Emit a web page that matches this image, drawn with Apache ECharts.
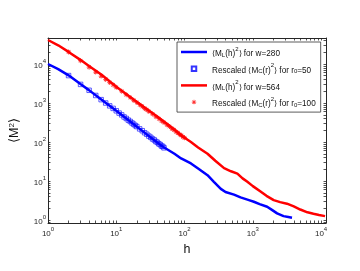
<!DOCTYPE html>
<html>
<head>
<meta charset="utf-8">
<script src="https://cdn.jsdelivr.net/npm/echarts@6/dist/echarts.min.js"></script>
<style>
  html, body { margin: 0; padding: 0; background: #fff; }
  #chart { width: 360px; height: 271px; }
</style>
</head>
<body>
<div id="chart"></div>
<script>
// <M_L(h)^2> for w=280 (blue line)
const blueLineH = [1, 1.41, 2, 3.02, 3.98, 6.03, 10, 15.8, 25.1, 39.8, 48.2, 71.1, 89.1, 124, 158, 217, 269, 340, 398, 530, 661, 877, 1035, 1259, 1622, 1905, 2270, 2818, 3311, 3750];
const blueLineM = [10000, 7410, 5130, 3020, 2140, 1230, 631, 339, 182, 97.7, 75.9, 50.1, 38.0, 28.2, 20.9, 14.1, 9.55, 6.31, 5.25, 4.47, 3.80, 3.24, 2.95, 2.57, 2.19, 1.82, 1.48, 1.26, 1.20, 1.15];

// rescaled <M_C(r)^2> for r0=50 (blue squares)
const blueSqH = [2, 3, 4, 5, 6, 7, 8, 9, 10, 11, 12, 13, 14, 15, 16, 17, 18, 19, 20, 22, 24, 26, 28, 30, 32, 34, 36, 38, 40, 42, 44, 46, 48, 50];
const blueSqM = [5050, 3000, 2120, 1560, 1220, 1000, 845, 728, 632, 552, 496, 440, 402, 364, 337, 308, 287, 264, 249, 217, 195, 173, 158, 142, 132, 120, 113, 103, 98, 90, 86, 79, 77, 71];

// <M_L(h)^2> for w=564 (red line)
const redLineH = [1, 1.41, 2, 3.02, 3.98, 6.03, 10, 15.8, 25.1, 39.8, 63.1, 94.2, 124, 158, 217, 282, 379, 479, 594, 708, 832, 1000, 1297, 1585, 2023, 2512, 3162, 3981, 4955, 6310, 7727, 9333, 11430];
const redLineM = [41200, 30200, 20400, 12600, 8900, 5370, 2630, 1450, 800, 450, 245, 138, 100, 72.4, 50.1, 33.1, 21.4, 17.8, 15.5, 11.7, 9.55, 7.41, 5.37, 4.17, 3.24, 2.88, 2.63, 2.24, 1.86, 1.58, 1.45, 1.35, 1.26];

// rescaled <M_C(r)^2> for r0=100 (red stars)
const redStarH = [2, 3, 4, 5, 6, 7, 8, 9, 10, 12, 14, 16, 18, 20, 22, 24, 26, 28, 30, 34, 38, 42, 46, 50, 55, 60, 65, 70, 75, 80, 85, 90, 95, 100];
const redStarM = [20400, 12100, 8300, 6200, 4900, 4030, 3370, 2910, 2520, 2010, 1630, 1390, 1170, 1035, 905, 818, 728, 670, 605, 522, 445, 396, 347, 316, 276, 250, 221, 205, 183, 172, 156, 148, 135, 129];

const xLabels = [1, 10, 100, 1000, 10000];
const yLabels = [1, 10, 100, 1000, 10000];
const xRange = [1, 11800];
const yRange = [0.84, 46400];

const zip = (xs, ys) => xs.map((x, i) => [x, ys[i]]);

// minor ticks 1..9 per decade, like matlab's log axes
const logTicks = (lo, hi) => {
  const out = [];
  for (let d = 0.1; d <= hi; d *= 10) {
    for (let k = 1; k <= 9; k++) {
      const v = +(k * d).toPrecision(3);
      if (v >= lo && v <= hi) out.push(v);
    }
  }
  return out;
};

const FONT = "Liberation Sans";
const AX = "#262626";
const sup = (v) => "{b|10}{s|" + Math.round(Math.log10(v)) + "}";
const tickRich = {
  b: { fontSize: 8, fontFamily: FONT, color: AX, verticalAlign: "bottom", lineHeight: 12 },
  s: { fontSize: 6, fontFamily: FONT, color: AX, verticalAlign: "top", lineHeight: 7 },
};

const star = "path://M-1,-0.16L1,-0.16L1,0.16L-1,0.16Z M-0.16,-1L0.16,-1L0.16,1L-0.16,1Z M-0.59,-0.82L0.82,0.59L0.59,0.82L-0.82,-0.59Z M0.82,-0.59L-0.59,0.82L-0.82,0.59L0.59,-0.82Z";
const lineIcon = "path://M0,0L26,0L26,2.5L0,2.5Z";
const squareIcon = "path://M0,0L10,0L10,10L0,10Z";

const xAxisBase = (pos) => ({
  type: "log",
  logBase: 10,
  min: xRange[0],
  max: xRange[1],
  position: pos,
  axisLine: { show: true, onZero: false, lineStyle: { color: AX, width: 1 } },
  axisTick: { show: true, inside: true, length: 2.5, customValues: logTicks(xRange[0], xRange[1]), lineStyle: { color: AX, width: 0.8 } },
  splitLine: { show: false },
  minorTick: { show: false },
});
const yAxisBase = (pos) => ({
  type: "log",
  logBase: 10,
  min: yRange[0],
  max: yRange[1],
  position: pos,
  axisLine: { show: true, onZero: false, lineStyle: { color: AX, width: 1 } },
  axisTick: { show: true, inside: true, length: 2.5, customValues: logTicks(yRange[0], yRange[1]), lineStyle: { color: AX, width: 0.8 } },
  splitLine: { show: false },
  minorTick: { show: false },
});

const legendRich = {
  n: { fontSize: 8.2, fontFamily: FONT, color: "#111", verticalAlign: "bottom", lineHeight: 12 },
  sub: { fontSize: 6, fontFamily: FONT, color: "#111", verticalAlign: "bottom", lineHeight: 10 },
  sup: { fontSize: 6, fontFamily: FONT, color: "#111", verticalAlign: "top", lineHeight: 12 },
};
const legendNames = {
  "lw280": "{n|\u27e8M}{sub|L}{n|(h)}{sup|2}{n|\u27e9 for w=280}",
  "rc50": "{n|Rescaled \u27e8M}{sub|C}{n|(r)}{sup|2}{n|\u27e9 for r}{sub|0}{n|=50}",
  "lw564": "{n|\u27e8M}{sub|L}{n|(h)}{sup|2}{n|\u27e9 for w=564}",
  "rc100": "{n|Rescaled \u27e8M}{sub|C}{n|(r)}{sup|2}{n|\u27e9 for r}{sub|0}{n|=100}",
};

const chart = echarts.init(document.getElementById("chart"), null, { renderer: "canvas" });

chart.setOption({
  animation: false,
  backgroundColor: "#fff",
  grid: { left: 46, right: 34, top: 38, bottom: 48, containLabel: false },
  xAxis: [
    Object.assign(xAxisBase("bottom"), {
      axisLabel: { show: true, customValues: xLabels, margin: 3, formatter: sup, rich: tickRich },
      name: "h",
      nameLocation: "middle",
      nameGap: 16,
      nameTextStyle: { fontSize: 12.5, fontFamily: FONT, color: "#111" },
    }),
    Object.assign(xAxisBase("top"), { axisLabel: { show: false } }),
  ],
  yAxis: [
    Object.assign(yAxisBase("left"), {
      axisLabel: { show: true, customValues: yLabels, margin: 2, formatter: sup, rich: tickRich },
      name: "\u27e8M{s|2}\u27e9",
      nameLocation: "middle",
      nameGap: 26,
      nameRotate: 90,
      nameTextStyle: {
        fontSize: 12.5, fontFamily: FONT, color: "#111",
        rich: { s: { fontSize: 8, fontFamily: FONT, color: "#111", verticalAlign: "top", lineHeight: 14 } },
      },
    }),
    Object.assign(yAxisBase("right"), { axisLabel: { show: false } }),
  ],
  legend: {
    orient: "vertical",
    left: 177,
    top: 42,
    padding: [4, 5, 4, 4],
    itemGap: 4.7,
    itemWidth: 26,
    itemHeight: 4.5,
    backgroundColor: "#fff",
    borderColor: "#333",
    borderWidth: 0.8,
    borderRadius: 0,
    selectedMode: false,
    formatter: (name) => legendNames[name],
    textStyle: { rich: legendRich },
    data: [
      { name: "lw280", icon: lineIcon },
      { name: "rc50", icon: squareIcon },
      { name: "lw564", icon: lineIcon },
      { name: "rc100" },
    ],
  },
  series: [
    {
      name: "lw280",
      type: "line",
      data: zip(blueLineH, blueLineM),
      symbol: "none",
      lineStyle: { color: "#0000ff", width: 2.5 },
      itemStyle: { color: "#0000ff" },
      z: 2,
    },
    {
      name: "rc50",
      type: "scatter",
      data: zip(blueSqH, blueSqM),
      symbol: "rect",
      symbolSize: 4.5,
      itemStyle: { color: "rgba(0,0,0,0)", borderColor: "#0000ff", borderWidth: 0.8 },
      z: 3,
    },
    {
      name: "lw564",
      type: "line",
      data: zip(redLineH, redLineM),
      symbol: "none",
      lineStyle: { color: "#ff0000", width: 2.5 },
      itemStyle: { color: "#ff0000" },
      z: 4,
    },
    {
      name: "rc100",
      type: "scatter",
      data: zip(redStarH, redStarM),
      symbol: star,
      symbolSize: 5,
      itemStyle: { color: "#ff0000" },
      z: 5,
    },
  ],
});
</script>
</body>
</html>
